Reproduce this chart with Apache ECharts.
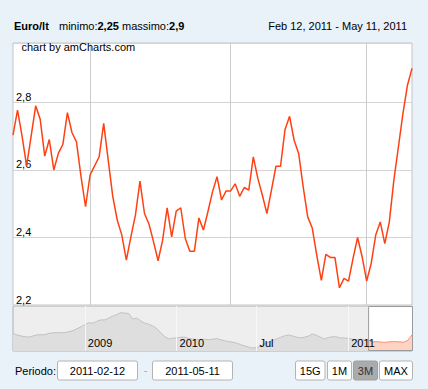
<!DOCTYPE html>
<html><head><meta charset="utf-8">
<script src="https://cdn.jsdelivr.net/npm/echarts@6/dist/echarts.min.js"></script>
<style>html,body{margin:0;padding:0;background:#E9F1F9;}#c{width:428px;height:389px;}</style>
</head><body><div id="c"></div>
<script>
// ---- data ----
const dates = [
 '2011-02-12','2011-02-13','2011-02-14','2011-02-15','2011-02-16','2011-02-17','2011-02-18','2011-02-19','2011-02-20','2011-02-21',
 '2011-02-22','2011-02-23','2011-02-24','2011-02-25','2011-02-26','2011-02-27','2011-02-28',
 '2011-03-01','2011-03-02','2011-03-03','2011-03-04','2011-03-05','2011-03-06','2011-03-07','2011-03-08','2011-03-09','2011-03-10',
 '2011-03-11','2011-03-12','2011-03-13','2011-03-14','2011-03-15','2011-03-16','2011-03-17','2011-03-18','2011-03-19','2011-03-20',
 '2011-03-21','2011-03-22','2011-03-23','2011-03-24','2011-03-25','2011-03-26','2011-03-27','2011-03-28','2011-03-29','2011-03-30','2011-03-31',
 '2011-04-01','2011-04-02','2011-04-03','2011-04-04','2011-04-05','2011-04-06','2011-04-07','2011-04-08','2011-04-09','2011-04-10',
 '2011-04-11','2011-04-12','2011-04-13','2011-04-14','2011-04-15','2011-04-16','2011-04-17','2011-04-18','2011-04-19','2011-04-20',
 '2011-04-21','2011-04-22','2011-04-23','2011-04-24','2011-04-25','2011-04-26','2011-04-27','2011-04-28','2011-04-29','2011-04-30',
 '2011-05-01','2011-05-02','2011-05-03','2011-05-04','2011-05-05','2011-05-06','2011-05-07','2011-05-08','2011-05-09','2011-05-10','2011-05-11'
];
const prices = [
 2.703,2.777,2.700,2.612,2.700,2.790,2.750,2.641,2.690,2.600,
 2.649,2.676,2.770,2.711,2.683,2.580,2.491,2.585,2.612,2.639,
 2.738,2.629,2.522,2.451,2.407,2.333,2.402,2.466,2.567,2.471,
 2.439,2.387,2.331,2.392,2.488,2.402,2.478,2.488,2.397,2.359,
 2.359,2.458,2.422,2.477,2.535,2.580,2.511,2.538,2.538,2.559,
 2.522,2.548,2.540,2.639,2.575,2.525,2.471,2.540,2.611,2.611,
 2.720,2.759,2.688,2.649,2.550,2.461,2.428,2.347,2.273,2.350,
 2.341,2.341,2.251,2.279,2.271,2.338,2.400,2.343,2.271,2.323,
 2.407,2.446,2.382,2.446,2.570,2.668,2.767,2.851,2.901
];
const scrollerValues = [
 2.99,2.89,2.83,2.78,2.76,2.83,2.90,2.90,2.91,2.99,
 3.02,3.04,3.02,3.04,3.09,3.16,3.27,3.39,3.52,3.64,
 3.62,3.73,3.82,3.82,3.93,4.06,4.15,4.27,4.24,4.22,
 3.88,3.93,3.76,3.62,3.55,3.45,3.29,3.04,2.79,2.65,
 2.70,2.70,2.75,2.76,2.68,2.64,2.60,2.62,2.62,2.60,
 2.62,2.67,2.60,2.54,2.48,2.45,2.38,2.30,2.22,2.14,
 2.08,2.11,2.20,2.33,2.45,2.54,2.64,2.74,2.83,2.89,
 2.83,2.76,2.71,2.75,2.81,2.95,2.88,2.76,2.64,2.73,
 2.78,2.78,2.71,2.70,2.69,2.63,2.60,2.63,2.61,2.58,
 2.46,2.48,2.46,2.43,2.46,2.48,2.48,2.46,2.45,2.57,
 2.90
];
const scrollerTickIndex = [18, 41, 61, 84];
const scrollerTickLabels = ['2009', '2010', 'Jul', '2011'];
const selectionStart = 89;
const yMin = 2.2, yMax = 2.976, yStep = 0.2;
const periodButtons = ['15G', '1M', '3M', 'MAX'];
const activeButton = '3M';

// ---- helpers ----
const FONT = "'Liberation Sans', Arial, sans-serif";
const MONTHS = ['Jan','Feb','Mar','Apr','May','Jun','Jul','Aug','Sep','Oct','Nov','Dec'];
function fmtLong(s){ const p = s.split('-'); return MONTHS[+p[1]-1] + ' ' + (+p[2]) + ', ' + p[0]; }
function fmtNum(v){ return String(Number(v.toFixed(2))).replace('.', ','); }
const scrollerCats = scrollerValues.map((v, i) => 'p' + i);
const grayData = scrollerValues.map((v, i) => i <= selectionStart ? v : null);
const selData = scrollerValues.map((v, i) => i >= selectionStart ? v : null);
const minV = Math.min.apply(null, prices), maxV = Math.max.apply(null, prices);

const G1 = {left: 13, top: 43, width: 399, height: 262};
const G2 = {left: 13, top: 306, width: 399, height: 45};

const chart = echarts.init(document.getElementById('c'), null, {renderer: 'svg'});
chart.setOption({
  animation: false,
  backgroundColor: '#E9F1F9',
  textStyle: {fontFamily: FONT},
  grid: [
    Object.assign({show: true, backgroundColor: '#ffffff', borderColor: '#c4c4c4', borderWidth: 1}, G1),
    Object.assign({show: true, backgroundColor: '#eeeeee', borderColor: '#b0b0b0', borderWidth: 1}, G2)
  ],
  xAxis: [
    {type: 'category', gridIndex: 0, data: dates, boundaryGap: false,
     axisLine: {show: false}, axisTick: {show: false}, axisLabel: {show: false},
     splitLine: {show: true, interval: (i, v) => v.slice(8) === '01', lineStyle: {color: '#cccccc', width: 1}}},
    {type: 'category', gridIndex: 1, data: scrollerCats, boundaryGap: false, z: 30,
     axisLine: {show: false}, axisTick: {show: false},
     axisLabel: {show: true, inside: true, margin: 3, align: 'left', padding: [0, 0, 0, 3],
       color: '#000', fontSize: 11, fontFamily: FONT,
       interval: (i) => scrollerTickIndex.indexOf(i) >= 0,
       formatter: (v, i) => { const k = scrollerTickIndex.indexOf(i); return k >= 0 ? scrollerTickLabels[k] : ''; }},
     splitLine: {show: false}}
  ],
  yAxis: [
    {type: 'value', gridIndex: 0, min: yMin, max: yMax, interval: yStep,
     axisLine: {show: false}, axisTick: {show: false},
     axisLabel: {inside: true, margin: 3, verticalAlign: 'bottom', color: '#000', fontSize: 11,
       fontFamily: FONT, showMaxLabel: false, formatter: v => fmtNum(v)},
     splitLine: {show: true, lineStyle: {color: '#d4d4d4', width: 1}}},
    {type: 'value', gridIndex: 1, min: 1.9, max: 4.68, show: false, splitLine: {show: false}}
  ],
  series: [
    {type: 'line', xAxisIndex: 0, yAxisIndex: 0, data: prices, symbol: 'none', z: 5,
     lineStyle: {color: '#ff4012', width: 1.5}},
    {type: 'line', xAxisIndex: 1, yAxisIndex: 1, data: grayData, symbol: 'none', z: 3,
     lineStyle: {color: '#c2c2c2', width: 1}, areaStyle: {color: '#dedede', opacity: 1},
     markLine: {silent: true, symbol: ['none', 'none'], label: {show: false},
       lineStyle: {color: '#f7f7f7', width: 1, type: 'solid'},
       data: scrollerTickIndex.map(i => ({xAxis: scrollerCats[i]}))}},
    {type: 'line', xAxisIndex: 1, yAxisIndex: 1, data: selData, symbol: 'none', z: 3,
     lineStyle: {color: '#ff9070', width: 1}, areaStyle: {color: '#ffd3c3', opacity: 1}}
  ]
});

// ---- layout graphics (header, selection window, controls) ----
const selX0 = chart.convertToPixel({xAxisIndex: 1}, scrollerCats[selectionStart]);
const selX1 = chart.convertToPixel({xAxisIndex: 1}, scrollerCats[scrollerCats.length - 1]);
const g = [];
g.push({type: 'text', x: 14, y: 26, z: 10, style: {text: 'Euro/lt', font: 'bold 11px ' + FONT, fill: '#000', verticalAlign: 'middle'}});
g.push({type: 'text', x: 59, y: 26, z: 10, style: {
  text: 'minimo:{b|' + fmtNum(minV) + '} massimo:{b|' + fmtNum(maxV) + '}',
  font: '11px ' + FONT, fill: '#000', verticalAlign: 'middle',
  rich: {b: {fontWeight: 'bold', fontSize: 11, fontFamily: FONT, fill: '#000'}}}});
g.push({type: 'text', x: 407, y: 26, z: 10, style: {text: fmtLong(dates[0]) + ' - ' + fmtLong(dates[dates.length - 1]),
  font: '11px ' + FONT, fill: '#000', align: 'right', verticalAlign: 'middle'}});
g.push({type: 'text', x: 21.5, y: 47, z: 10, style: {text: 'chart by amCharts.com', font: '11px ' + FONT, fill: '#000', verticalAlign: 'middle'}});
// selection window in scroller
g.push({type: 'rect', z: 1, shape: {x: selX0, y: G2.top, width: selX1 - selX0, height: G2.height}, style: {fill: '#ffffff'}});
g.push({type: 'rect', z: 20, shape: {x: selX0 + 0.5, y: G2.top + 0.5, width: selX1 - selX0, height: G2.height - 1}, style: {fill: 'none', stroke: '#9a9a9a', lineWidth: 1}});
// controls
g.push({type: 'text', x: 15, y: 371, style: {text: 'Periodo:', font: '11px ' + FONT, fill: '#000', verticalAlign: 'middle'}});
[[57.5, dates[0]], [152.5, dates[dates.length - 1]]].forEach(b => {
  g.push({type: 'rect', shape: {x: b[0], y: 361, width: 80, height: 19, r: 2}, style: {fill: '#fff', stroke: '#b4b4b4', lineWidth: 1}});
  g.push({type: 'text', x: b[0] + 40, y: 371, style: {text: b[1], font: '11px ' + FONT, fill: '#000', align: 'center', verticalAlign: 'middle'}});
});
g.push({type: 'text', x: 145.5, y: 370, style: {text: '-', font: '11px ' + FONT, fill: '#aaaaaa', align: 'center', verticalAlign: 'middle'}});
const btnX = [295.5, 327.5, 353.5, 379.5], btnW = [29.5, 24, 24, 33];
periodButtons.forEach((t, i) => {
  const on = t === activeButton;
  g.push({type: 'rect', shape: {x: btnX[i], y: 361, width: btnW[i], height: 19, r: 2},
    style: {fill: on ? '#ababab' : '#fff', stroke: on ? '#a0a0a0' : '#b4b4b4', lineWidth: 1}});
  g.push({type: 'text', x: btnX[i] + btnW[i] / 2, y: 371, style: {text: t, font: '11px ' + FONT, fill: on ? '#333' : '#000', align: 'center', verticalAlign: 'middle'}});
});
chart.setOption({graphic: g});
</script></body></html>
